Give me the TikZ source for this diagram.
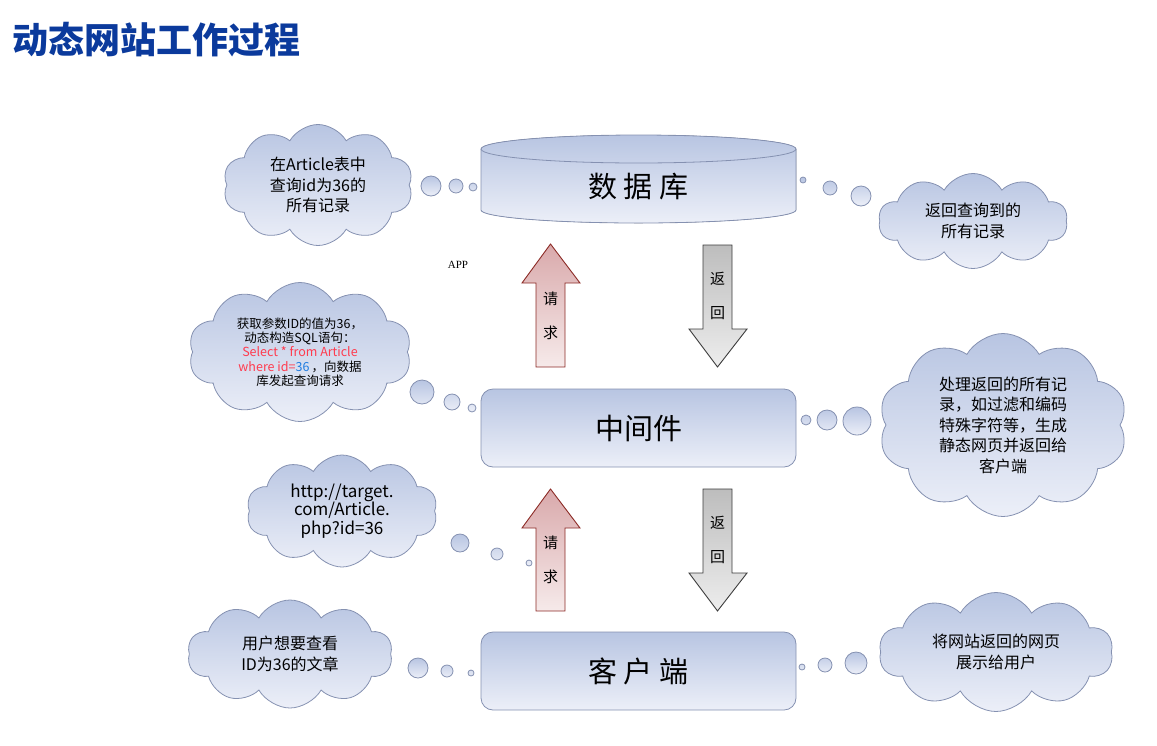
\documentclass[tikz,border=0pt]{standalone}
\usepackage{fontspec}
\setmainfont{Noto Sans CJK SC}
\newfontfamily\appfont{Liberation Serif}
\usetikzlibrary{shapes.symbols}
\definecolor{titleblue}{HTML}{0B3A9C}
\definecolor{cloudtop}{HTML}{B8C5E2}
\definecolor{cloudbot}{HTML}{ECEFF8}
\definecolor{cloudline}{HTML}{8591B1}
\definecolor{reqtop}{HTML}{D9A9AB}
\definecolor{reqbot}{HTML}{F6EAEA}
\definecolor{reqline}{HTML}{8C2B26}
\definecolor{rettop}{HTML}{BDBDBD}
\definecolor{retbot}{HTML}{EDEDED}
\definecolor{retline}{HTML}{3C3C3C}
\definecolor{sqlred}{HTML}{FF3B4E}
\definecolor{sqlblue}{HTML}{1E7BE0}

\begin{document}
\begin{tikzpicture}[x=1pt, y=-1pt,
  thought/.style={cloud, cloud puffs=10, cloud puff arc=120, cloud ignores aspect,
    draw=cloudline, line width=0.8pt, top color=cloudtop, bottom color=cloudbot,
    align=center, inner sep=0pt, font=\fontsize{16}{20.5}\selectfont},
  bubble/.style={draw=cloudline, line width=0.8pt, top color=cloudtop, bottom color=cloudbot},
  tier/.style={font=\fontsize{29}{34}\selectfont},
  reqarrow/.style={draw=reqline, line width=0.9pt, top color=reqtop, bottom color=reqbot},
  retarrow/.style={draw=retline, line width=0.9pt, top color=rettop, bottom color=retbot},
  arrowtxt/.style={align=center, font=\fontsize{15}{34}\selectfont}]
  \useasboundingbox (0,0) rectangle (1157,745);

  \node[anchor=west, inner sep=0pt, text=titleblue, font=\bfseries\fontsize{36}{40}\selectfont]
    (title) at (12,40) {动态网站工作过程};

  % database
  \filldraw[draw=cloudline, line width=0.8pt, top color=cloudtop, bottom color=cloudbot]
    (481,149) -- (481,210) arc[start angle=180, end angle=360, x radius=157.5pt, y radius=13pt]
    -- (796,149) arc[start angle=0, end angle=180, x radius=157.5pt, y radius=14pt] -- cycle;
  \draw[cloudline, line width=0.8pt] (481,149) arc[start angle=180, end angle=360, x radius=157.5pt, y radius=14pt];
  \node[tier] (db) at (638.5,187) {数\hspace{7pt}据\hspace{7pt}库};

  % middleware and client
  \node[tier, draw=cloudline, line width=0.8pt, rounded corners=12pt, top color=cloudtop, bottom color=cloudbot,
    minimum width=315pt, minimum height=78pt] (mid) at (638.5,428) {中间件};
  \node[tier, draw=cloudline, line width=0.8pt, rounded corners=12pt, top color=cloudtop, bottom color=cloudbot,
    minimum width=315pt, minimum height=78pt] (cli) at (638.5,671) {客\hspace{7pt}户\hspace{7pt}端};

  % block arrows
  \draw[reqarrow] (536,367) -- (536,283) -- (522,283) -- (550.5,244) -- (580,283) -- (565,283) -- (565,367) -- cycle;
  \node[arrowtxt] (reqdb) at (550.5,316) {请\\求};
  \draw[reqarrow] (536,611) -- (536,528) -- (522,528) -- (550.5,489) -- (580,528) -- (565,528) -- (565,611) -- cycle;
  \node[arrowtxt] (reqmid) at (550.5,560) {请\\求};
  \draw[retarrow] (703,245) -- (732,245) -- (732,329) -- (747,329) -- (717.5,367) -- (689,329) -- (703,329) -- cycle;
  \node[arrowtxt] (retmid) at (717.5,296) {返\\回};
  \draw[retarrow] (703,489) -- (732,489) -- (732,573) -- (747,573) -- (717.5,611) -- (689,573) -- (703,573) -- cycle;
  \node[arrowtxt] (retcli) at (717.5,540) {返\\回};

  \node[font=\appfont\fontsize{11}{13}\selectfont] (app) at (458,265) {APP};

  % thought clouds
  \node[thought, minimum width=190pt, minimum height=121pt] (qrydb) at (318,185)
    {在Article表中\\查询id为36的\\所有记录};
  \node[thought, minimum width=189pt, minimum height=95pt] (retrec) at (973,221)
    {返回查询到的\\所有记录};
  \node[thought, minimum width=223pt, minimum height=139pt, font=\fontsize{12.5}{14.3}\selectfont] (buildsql) at (300,352)
    {获取参数ID的值为36，\\动态构造SQL语句：\\{\color{sqlred}Select * from Article}\\{\color{sqlred}where id=}{\color{sqlblue}36}\,，向数据\\库发起查询请求};
  \node[thought, minimum width=249pt, minimum height=183pt] (procrec) at (1003,425)
    {处理返回的所有记\\录，如过滤和编码\\特殊字符等，生成\\静态网页并返回给\\客户端};
  \node[thought, minimum width=191pt, minimum height=112pt, font=\fontsize{17}{18.5}\selectfont] (urlreq) at (342,511)
    {http://target.\\com/Article.\\php?id=36};
  \node[thought, minimum width=205pt, minimum height=108pt] (userwant) at (290,654)
    {用户想要查看\\ID为36的文章};
  \node[thought, minimum width=234pt, minimum height=119pt] (showpage) at (996,652)
    {将网站返回的网页\\展示给用户};

  % bubbles
  \draw[bubble] (431,186) circle (10pt) (456,186) circle (7pt) (473,187) circle (4pt);
  \draw[bubble] (803,180) circle (3pt) (830,188) circle (7pt) (861,196) circle (10pt);
  \draw[bubble] (422,392) circle (12pt) (452,402) circle (8pt) (472,408) circle (4pt);
  \draw[bubble] (806,420) circle (5pt) (827,420) circle (10pt) (857,421) circle (14pt);
  \draw[bubble] (460,543) circle (9pt) (497,554) circle (6pt) (529,563) circle (3pt);
  \draw[bubble] (418,668) circle (10pt) (447,671) circle (6pt) (471,673) circle (3pt);
  \draw[bubble] (802,667) circle (3pt) (825,665) circle (7pt) (856,663) circle (11pt);
\end{tikzpicture}
\end{document}
